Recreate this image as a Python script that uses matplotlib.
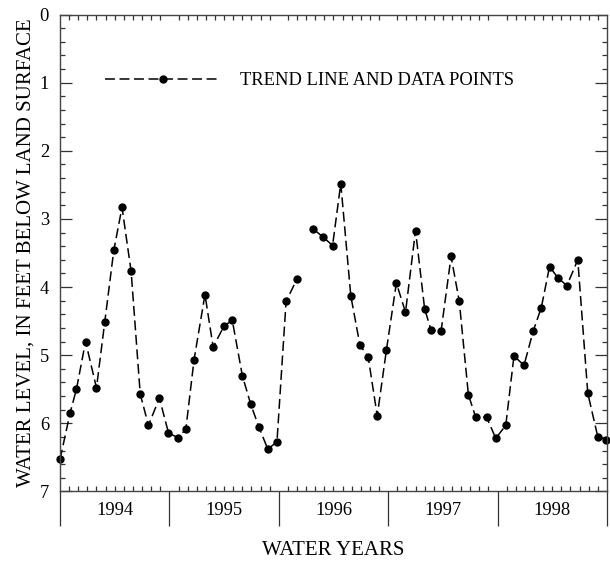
import numpy as np
import matplotlib
matplotlib.use("Agg")
from matplotlib import pyplot as plt
from matplotlib.ticker import MultipleLocator

# months since start of water year 1994 (Oct 1993) and depth to water, ft
months = [0.0, 1.1, 1.8, 2.8, 4.0, 4.9, 5.9, 6.8, 7.8, 8.8,
          9.7, 10.9, 11.9, 12.9, 13.8, 14.7, 15.9, 16.8, 18.0, 18.9,
          20.0, 20.9, 21.8, 22.8, 23.8, 24.8, 26.0, 27.8, 28.9, 29.9,
          30.8, 31.9, 32.9, 33.8, 34.8, 35.8, 36.9, 37.9, 39.0, 40.0,
          40.7, 41.8, 42.9, 43.8, 44.8, 45.6, 46.8, 47.8, 48.9, 49.8,
          50.9, 51.9, 52.8, 53.7, 54.6, 55.6, 56.8, 57.9, 59.0, 59.9]
water_level = [6.53, 5.85, 5.50, 4.80, 5.48, 4.52, 3.46, 2.83, 3.77, 5.57,
               6.03, 5.63, 6.14, 6.21, 6.09, 5.07, 4.11, 4.88, 4.57, 4.49,
               5.30, 5.71, 6.05, 6.38, 6.27, 4.21, 3.88, 3.15, 3.27, 3.39,
               2.48, 4.13, 4.85, 5.02, 5.89, 4.93, 3.94, 4.37, 3.17, 4.32,
               4.63, 4.65, 3.55, 4.21, 5.58, 5.91, 5.91, 6.22, 6.03, 5.01,
               5.15, 4.65, 4.30, 3.70, 3.86, 3.98, 3.60, 5.56, 6.20, 6.24]
gap_start = 27  # record missing between these points
years = [1994, 1995, 1996, 1997, 1998]

plt.rcParams["font.family"] = ["Liberation Serif", "DejaVu Serif"]

fig = plt.figure(figsize=(6.1, 5.61), dpi=100)
ax = fig.add_axes([0.0984, 0.124, 0.8966, 0.850])

x = np.array(months)
y = np.array(water_level)
style = dict(color="black", lw=1.1, ls=(0, (6.5, 3)), marker="o",
             markersize=5, clip_on=False)
ax.plot(x[:gap_start], y[:gap_start], label="TREND LINE AND DATA POINTS", **style)
ax.plot(x[gap_start:], y[gap_start:], **style)

ax.set_xlim(0, 60)
ax.set_ylim(7, 0)

# y axis ticks
ax.yaxis.set_major_locator(MultipleLocator(1))
ax.yaxis.set_minor_locator(MultipleLocator(0.2))
ax.tick_params(axis="y", which="major", direction="in", length=8.6, width=0.9,
               left=True, right=True, labelsize=13.3, pad=8, color="#333333")
ax.tick_params(axis="y", which="minor", direction="in", length=3.6, width=0.9,
               left=True, right=True, color="#333333")

# x axis: monthly ticks inside, year dividers outside
ax.xaxis.set_major_locator(MultipleLocator(12))
ax.xaxis.set_minor_locator(MultipleLocator(1))
ax.tick_params(axis="x", which="major", direction="out", length=25, width=0.9,
               top=False, labelbottom=False, color="#333333")
ax.tick_params(axis="x", which="minor", direction="in", length=3.6, width=0.9,
               top=True, bottom=True, color="#333333")

for i, yr in enumerate(years):
    ax.text(6 + 12 * i, -0.04, str(yr), transform=ax.get_xaxis_transform(),
            ha="center", va="center", fontsize=13.3)

for s in ax.spines.values():
    s.set_linewidth(1.0)
    s.set_color("#444444")

ax.set_xlabel("WATER YEARS", fontsize=15)
ax.xaxis.set_label_coords(0.5, -0.103)
ax.set_ylabel("WATER LEVEL, IN FEET BELOW LAND SURFACE", fontsize=15)
ax.yaxis.set_label_coords(-0.044, 0.5)

ax.legend(loc="center left", bbox_to_anchor=(0.082, 0.861), frameon=False,
          fontsize=13.3, handlelength=6.3, handletextpad=1.0, numpoints=1,
          borderpad=0, borderaxespad=0)

fig.savefig("out.png", dpi=100)
